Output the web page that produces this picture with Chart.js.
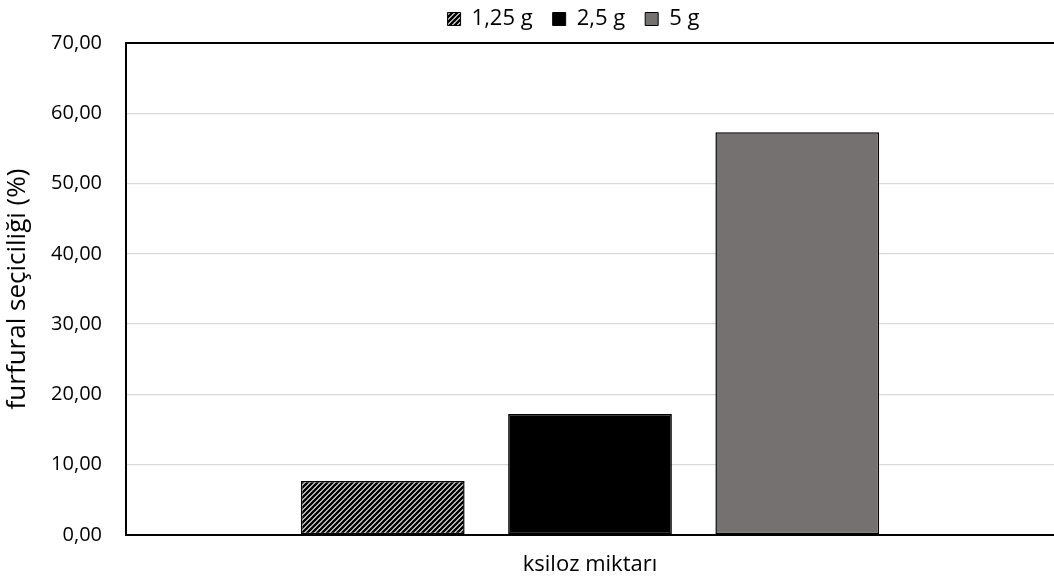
<!DOCTYPE html>
<html>
<head>
<meta charset="utf-8">
<script src="https://cdn.jsdelivr.net/npm/chart.js@4"></script>
<style>
  html, body { margin: 0; padding: 0; background: #fff; }
  #wrap { width: 1054px; height: 578px; position: relative; }
</style>
</head>
<body>
<div id="wrap"><canvas id="c"></canvas></div>
<script>
var categories = [''];
var seriesNames = ['1,25 g', '2,5 g', '5 g'];
var values125 = [7.7];
var values25 = [17.2];
var values5 = [57.3];
var yTicks = [0, 10, 20, 30, 40, 50, 60, 70];

function stripePattern() {
    var p = document.createElement('canvas');
    p.width = 5; p.height = 5;
    var g = p.getContext('2d');
    g.fillStyle = '#fff';
    g.fillRect(0, 0, 5, 5);
    g.strokeStyle = '#000';
    g.lineWidth = 2.6;
    g.beginPath();
    g.moveTo(-1, 6); g.lineTo(6, -1);
    g.moveTo(-4, 4); g.lineTo(4, -4);
    g.moveTo(1, 9); g.lineTo(9, 1);
    g.stroke();
    return document.getElementById('c').getContext('2d').createPattern(p, 'repeat');
}

var font = "'Open Sans', 'Noto Sans', sans-serif";
var stripes = stripePattern();

// legend: fixed height, and a little right of the canvas centre like the original
var legendTweak = {
    id: 'legendTweak',
    afterInit: function (chart) {
        var lg = chart.legend;
        var fit = lg.fit;
        lg.fit = function () {
            fit.apply(this, arguments);
            this.height = 55;
        };
    },
    afterLayout: function (chart) {
        chart.legend.left += 44;
        chart.legend.right += 44;
    }
};

window.onload = function () {
    var ctx = document.getElementById('c').getContext('2d');
    new Chart(ctx, {
        type: 'bar',
        data: {
            labels: categories,
            datasets: [{
                label: seriesNames[0],
                data: values125,
                backgroundColor: stripes,
                borderColor: '#000',
                borderWidth: 1.5,
                borderSkipped: false
            }, {
                label: seriesNames[1],
                data: values25,
                backgroundColor: '#000000',
                borderColor: '#000',
                borderWidth: 1.5,
                borderSkipped: false
            }, {
                label: seriesNames[2],
                data: values5,
                backgroundColor: '#767171',
                borderColor: '#000',
                borderWidth: 1.5,
                borderSkipped: false
            }]
        },
        plugins: [legendTweak],
        options: {
            responsive: true,
            maintainAspectRatio: false,
            animation: false,
            layout: { padding: { top: -12, right: -5, left: 0, bottom: 0 } },
            datasets: { bar: { categoryPercentage: 0.67, barPercentage: 0.79 } },
            plugins: {
                legend: {
                    position: 'top',
                    labels: {
                        color: '#000',
                        font: { family: font, size: 22 },
                        boxWidth: 13,
                        boxHeight: 13,
                        padding: 20,
                        generateLabels: function (chart) {
                            return chart.data.datasets.map(function (ds, i) {
                                return {
                                    text: ds.label,
                                    fillStyle: ds.backgroundColor,
                                    strokeStyle: '#000',
                                    lineWidth: 1,
                                    datasetIndex: i
                                };
                            });
                        }
                    }
                },
                tooltip: { enabled: false }
            },
            scales: {
                x: {
                    grid: { display: false },
                    border: { color: '#000', width: 2 },
                    ticks: { display: false },
                    title: {
                        display: true,
                        text: 'ksiloz miktarı',
                        color: '#000',
                        font: { family: font, size: 22 },
                        padding: { top: 8, bottom: 0 }
                    },
                    afterFit: function (s) { s.height = 43; }
                },
                y: {
                    min: 0,
                    max: 70,
                    afterBuildTicks: function (s) {
                        s.ticks = yTicks.map(function (v) { return { value: v }; });
                    },
                    grid: {
                        color: function (c) { return c.tick && c.tick.value === 70 ? '#000' : '#d9d9d9'; },
                        lineWidth: function (c) { return c.tick && c.tick.value === 70 ? 2 : 1.3; },
                        drawTicks: false
                    },
                    border: { color: '#000', width: 2 },
                    ticks: {
                        color: '#000',
                        padding: 24,
                        font: { family: font, size: 20 },
                        callback: function (v) { return v.toFixed(2).replace('.', ','); }
                    },
                    title: {
                        display: true,
                        text: 'furfural seçiciliği (%)',
                        color: '#000',
                        font: { family: font, size: 26 },
                        padding: { top: 2, bottom: 0 }
                    },
                    afterFit: function (s) { s.width = 126; }
                }
            }
        }
    });
};
</script>
</body>
</html>
